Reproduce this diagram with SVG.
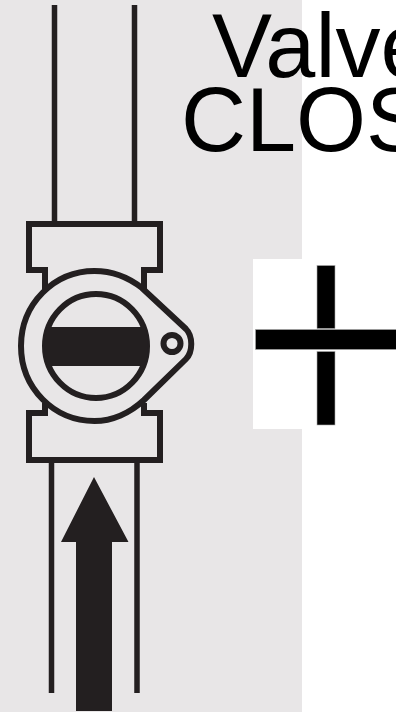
<svg xmlns="http://www.w3.org/2000/svg" width="396" height="712" viewBox="0 0 396 712">
<style>
.l{fill:none;stroke:#231f20;stroke-width:6;stroke-linejoin:miter}
.t{font-family:"Liberation Sans",Arial,sans-serif;font-size:90px;fill:#000}
.b{fill:#000;stroke:#aaa;stroke-width:.6}
</style>
<defs><clipPath id="disc"><ellipse cx="96" cy="346" rx="52" ry="54"/></clipPath></defs>
<rect id="background" x="0" y="0" width="302" height="712" fill="#e8e6e7"/>
<rect id="panel" x="253" y="259" width="49" height="170" fill="#fff"/>
<g id="valve">
<path class="l" d="M54.500 5V223M134.500 5V223M51.500 458V693M137 458V693" style="stroke-width:5.500"/>
<path class="l" d="M45 290V270H29V224H160V270H144V290"/>
<path class="l" d="M45 403V413H29V460H160V413H144V403"/>
<path class="l" d="M94.500 271C112 271 128 277 142 288L186 329C193 336 193 352 186 359L144 400C130 413 112 421 94.500 421C54 421 21 388 21 346C21 304 54 271 94.500 271Z" style="fill:#e8e6e7"/>
<ellipse class="l" cx="96" cy="346" rx="51" ry="52"/>
<rect x="40" y="327" width="112" height="39" fill="#231f20" clip-path="url(#disc)"/>
<circle class="l" cx="172" cy="343.500" r="8.500"/>
<path id="arrow" d="M94 477L128.500 542H112V711H76V542H61Z" fill="#231f20"/>
</g>
<g id="label">
<text class="t" x="212" y="76.500">Valve</text>
<text class="t" x="181" y="150.500">CLOSED</text>
</g>
<g id="cross">
<rect class="b" x="317" y="265.500" width="18" height="63"/>
<rect class="b" x="255.500" y="329.500" width="141" height="20"/>
<rect class="b" x="317" y="351.500" width="18" height="73.500"/>
</g>
</svg>
